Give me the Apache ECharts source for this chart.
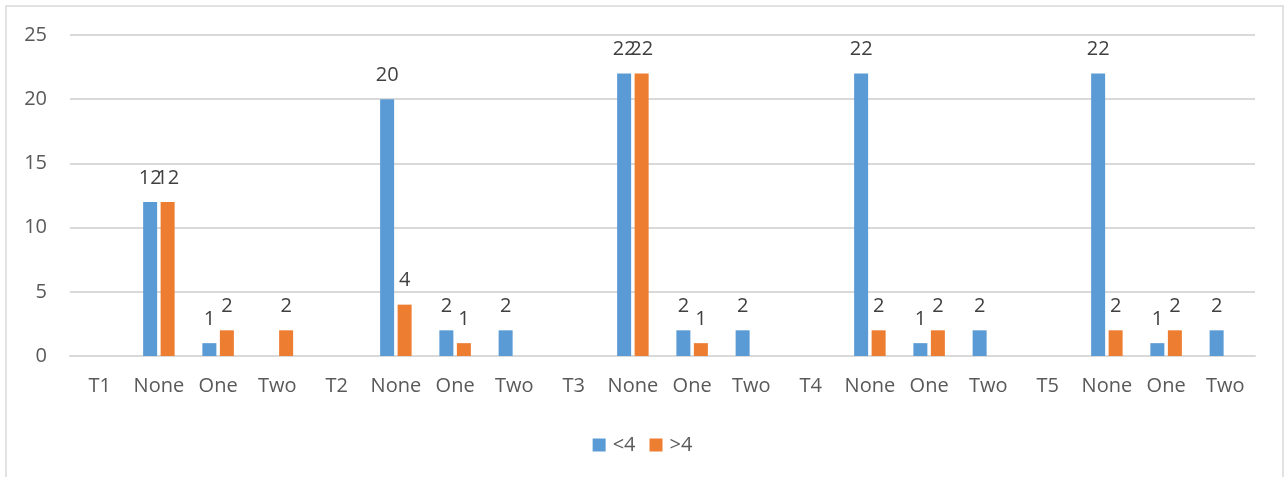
<!DOCTYPE html>
<html>
<head>
<meta charset="utf-8">
<script src="https://cdn.jsdelivr.net/npm/echarts@6/dist/echarts.min.js"></script>
<style>
  html, body { margin: 0; padding: 0; background: #fff; }
  #chart { width: 1285px; height: 477px; }
</style>
</head>
<body>
<div id="chart"></div>
<script>
// Groups T1..T5, each followed by None / One / Two counts
const categories = [
  'T1', 'None', 'One', 'Two',
  'T2', 'None', 'One', 'Two',
  'T3', 'None', 'One', 'Two',
  'T4', 'None', 'One', 'Two',
  'T5', 'None', 'One', 'Two'
];
const below4 = [
  null, 12, 1, null,
  null, 20, 2, 2,
  null, 22, 2, 2,
  null, 22, 1, 2,
  null, 22, 1, 2
];
const above4 = [
  null, 12, 2, 2,
  null, 4, 1, null,
  null, 22, 1, null,
  null, 2, 2, null,
  null, 2, 2, null
];
const seriesNames = ['<4', '>4'];
const yTicks = { min: 0, max: 25, interval: 5 };

const font = '"Open Sans", sans-serif';
const chart = echarts.init(document.getElementById('chart'), null, { renderer: 'canvas' });

const labelStyle = {
  show: true,
  position: 'top',
  distance: 14,
  color: '#404040',
  fontSize: 20,
  fontFamily: font
};

chart.setOption({
  animation: false,
  color: ['#5b9bd5', '#ed7d31'],
  graphic: [{
    type: 'rect',
    shape: { x: 6, y: 6, width: 1277, height: 490 },
    style: { fill: 'none', stroke: '#d9d9d9', lineWidth: 1.5 },
    silent: true,
    z: -1
  }],
  grid: { left: 70, right: 30, top: 35, bottom: 121, containLabel: false },
  legend: {
    top: 430,
    left: 'center',
    itemWidth: 13,
    itemHeight: 13,
    itemGap: 14,
    icon: 'rect',
    textStyle: { color: '#595959', fontSize: 20, fontFamily: font, padding: [0, 0, 0, 2] },
    data: seriesNames
  },
  xAxis: {
    type: 'category',
    data: categories,
    axisLine: { lineStyle: { color: '#d9d9d9', width: 2 } },
    axisTick: { show: false },
    axisLabel: { color: '#595959', fontSize: 20, fontFamily: font, margin: 20, interval: 0 }
  },
  yAxis: {
    type: 'value',
    min: yTicks.min,
    max: yTicks.max,
    interval: yTicks.interval,
    axisLine: { show: false },
    axisTick: { show: false },
    axisLabel: { color: '#595959', fontSize: 20, fontFamily: font, margin: 23 },
    splitLine: { lineStyle: { color: '#d9d9d9', width: 2 } }
  },
  series: [
    {
      name: seriesNames[0],
      type: 'bar',
      data: below4,
      barWidth: 14,
      barGap: '25%',
      label: labelStyle
    },
    {
      name: seriesNames[1],
      type: 'bar',
      data: above4,
      barWidth: 14,
      barGap: '25%',
      label: labelStyle
    }
  ]
});
</script>
</body>
</html>
